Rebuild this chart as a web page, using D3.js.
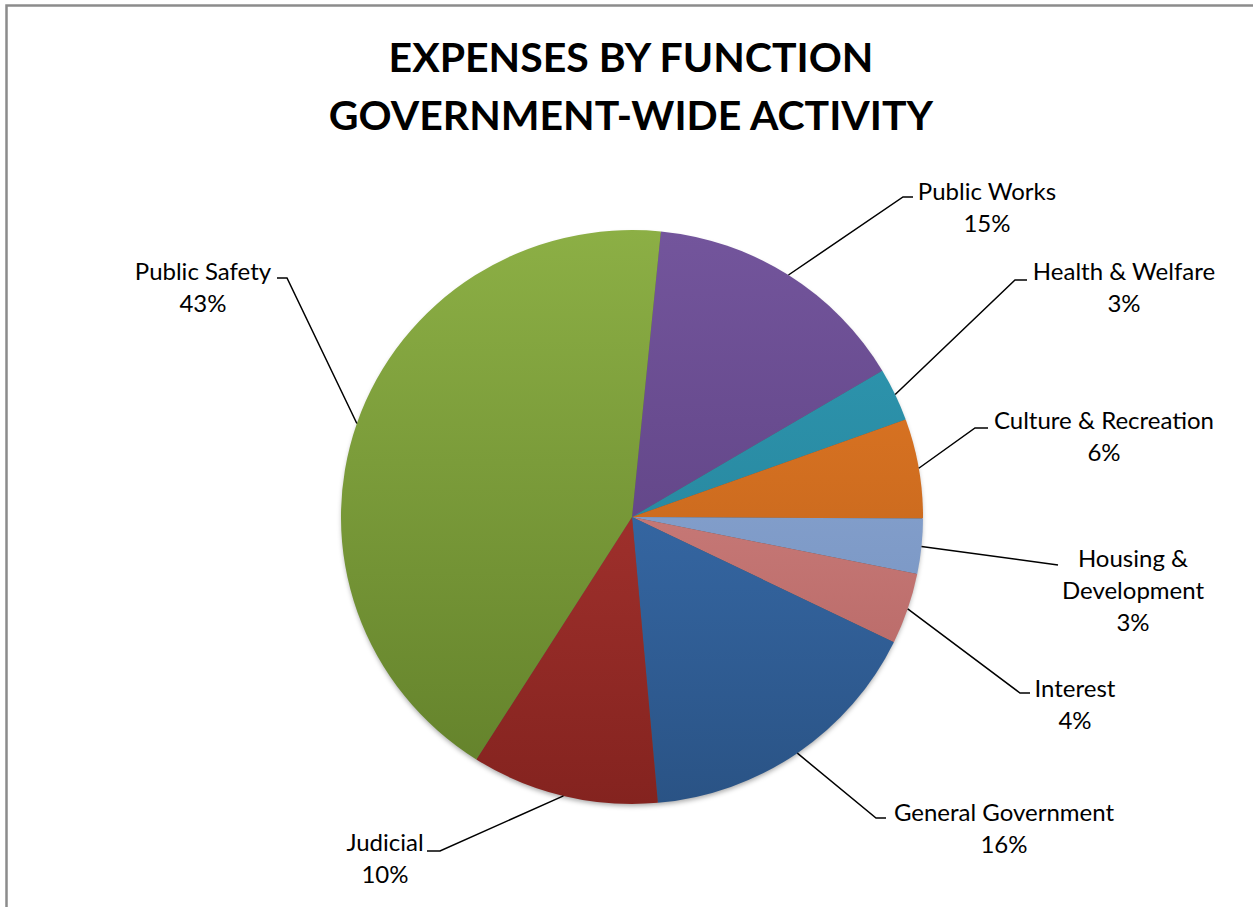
<!DOCTYPE html>
<html>
<head>
<meta charset="utf-8">
<script src="https://cdn.jsdelivr.net/npm/d3@7"></script>
<style>
  body { margin: 0; background: #fff; }
  svg text { font-family: Lato, "Open Sans", sans-serif; fill: #000; }
</style>
</head>
<body>
<svg id="chart" width="1253" height="907"></svg>
<script>
// data (percent of total expenses)
var categories = ['Public Works', 'Health & Welfare', 'Culture & Recreation', 'Housing & Development', 'Interest', 'General Government', 'Judicial', 'Public Safety']
var values = [14.9, 3.0, 5.6, 3.1, 4.0, 16.4, 10.4, 42.6]
var labelLines = [['Public Works'], ['Health & Welfare'], ['Culture & Recreation'], ['Housing &', 'Development'], ['Interest'], ['General Government'], ['Judicial'], ['Public Safety']]
var titleLines = ['EXPENSES BY FUNCTION', 'GOVERNMENT-WIDE ACTIVITY']

// gradient colours, top -> bottom
var topColors = ['#73559c', '#2f9ab4', '#e77b26', '#93aed7', '#db8f8d', '#3f78bd', '#b83c38', '#8caf45']
var bottomColors = ['#553a78', '#237a90', '#b45d18', '#6f8cbc', '#b0605e', '#2a5385', '#84231f', '#62802a']

// label placement (text centre x, first line y, elbow x/y, end x)
var labelX = [987, 1124, 1104, 1133, 1075, 1004, 385, 203]
var labelY = [192, 272, 421, 559, 689, 813, 843, 272]
var elbowX = [903, 1015, 975, 1058, 1020, 876, 440, 287]
var elbowY = [197, 280, 428, 565, 693, 818, 851, 278]
var endX = [913, 1027, 988, 1058, 1030, 886, 427, 277]

var svg = d3.select('#chart')
var cx = 632, cy = 517, r = 287, sx = 1.014
var lineH = 32

// frame
svg.append('rect')
  .attr('x', 6.5).attr('y', 5.5)
  .attr('width', 1300).attr('height', 1000)
  .attr('fill', 'none')
  .attr('stroke', '#8c8c8c')
  .attr('stroke-width', 2.5)

// title
svg.selectAll('.title').data(titleLines).enter().append('text')
  .attr('class', 'title')
  .attr('x', 631)
  .attr('y', (d, i) => 72 + i * 58)
  .attr('text-anchor', 'middle')
  .style('font-size', '41px')
  .style('font-weight', 'bold')
  .text(d => d)

var defs = svg.append('defs')
categories.forEach((c, i) => {
  var g = defs.append('linearGradient')
    .attr('id', 'grad' + i)
    .attr('gradientUnits', 'userSpaceOnUse')
    .attr('x1', 0).attr('y1', -r)
    .attr('x2', 0).attr('y2', r)
  g.append('stop').attr('offset', '0%').attr('stop-color', topColors[i])
  g.append('stop').attr('offset', '100%').attr('stop-color', bottomColors[i])
})
var shadow = defs.append('filter').attr('id', 'shadow')
  .attr('x', '-10%').attr('y', '-10%').attr('width', '120%').attr('height', '120%')
shadow.append('feDropShadow')
  .attr('dx', 0).attr('dy', 3).attr('stdDeviation', 2.5)
  .attr('flood-color', '#000').attr('flood-opacity', 0.35)

var start = 5.7 * Math.PI / 180
var pie = d3.pie().sort(null).startAngle(start).endAngle(start + 2 * Math.PI)
var arcs = pie(values)
var arc = d3.arc().innerRadius(0).outerRadius(r)
var total = d3.sum(values)

var g = svg.append('g').attr('transform', `translate(${cx},${cy}) scale(${sx},1)`)
g.append('circle').attr('r', r - 1).attr('fill', '#555').attr('filter', 'url(#shadow)')

g.selectAll('path').data(arcs).enter().append('path')
  .attr('d', arc)
  .attr('fill', (d, i) => 'url(#grad' + i + ')')

// leader lines from the middle of each slice's outer edge
arcs.forEach((d, i) => {
  var mid = (d.startAngle + d.endAngle) / 2
  var px = cx + sx * r * Math.sin(mid)
  var py = cy - r * Math.cos(mid)
  svg.append('polyline')
    .attr('points', `${px},${py} ${elbowX[i]},${elbowY[i]} ${endX[i]},${elbowY[i]}`)
    .attr('fill', 'none')
    .attr('stroke', '#000')
    .attr('stroke-width', 1.5)

  var lines = labelLines[i].concat([Math.round(values[i] / total * 100) + '%'])
  svg.append('g').selectAll('text').data(lines).enter().append('text')
    .attr('x', labelX[i])
    .attr('y', (t, j) => labelY[i] + j * lineH)
    .attr('dy', '0.35em')
    .attr('text-anchor', 'middle')
    .style('font-size', '24px')
    .text(t => t)
})
</script>
</body>
</html>
